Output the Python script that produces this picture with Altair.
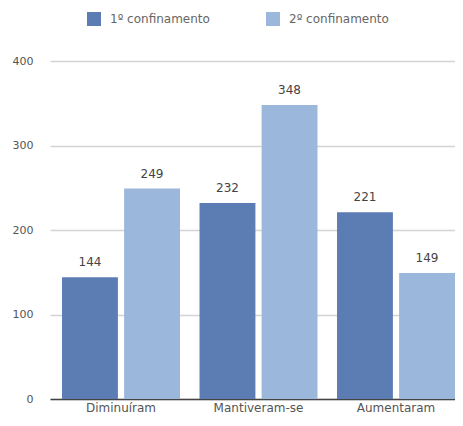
import altair as alt
import pandas as pd

categories = ["Diminuíram", "Mantiveram-se", "Aumentaram"]
series = ["1º confinamento", "2º confinamento"]
values_1 = [144, 232, 221]
values_2 = [249, 348, 149]
colors = ["#5b7db4", "#9bb8dc"]

rows = []
for c, a, b in zip(categories, values_1, values_2):
    rows.append({"cat": c, "serie": series[0], "v": a})
    rows.append({"cat": c, "serie": series[1], "v": b})
df = pd.DataFrame(rows)

FONT = "DejaVu Sans"

x = alt.X("cat:N", sort=categories, title=None,
          scale=alt.Scale(paddingInner=0.142, paddingOuter=0.0437, align=1),
          axis=alt.Axis(labelAngle=0, labelFontSize=12, labelColor="#555",
                        labelFont=FONT, ticks=False, domain=True,
                        domainColor="#444", domainWidth=1.5, labelPadding=3))
xo = alt.XOffset("serie:N", sort=series, scale=alt.Scale(paddingInner=0.1))
y = alt.Y("v:Q", title=None,
          scale=alt.Scale(domain=[0, 400]),
          axis=alt.Axis(values=[0, 100, 200, 300, 400], labelFontSize=11,
                        labelColor="#555", labelFont=FONT, ticks=False,
                        domain=False, gridColor="#d4d4d4", gridWidth=1.5,
                        labelPadding=17))

color = alt.Color("serie:N", sort=series,
                  scale=alt.Scale(domain=series, range=colors),
                  legend=alt.Legend(title=None, orient="none", direction="horizontal",
                                    legendX=37, legendY=-49, symbolType="square",
                                    symbolSize=196, symbolStrokeWidth=0,
                                    labelFontSize=12, labelColor="#666",
                                    labelFont=FONT, columnPadding=56,
                                    labelOffset=9, symbolOpacity=1))

base = alt.Chart(df)
bars = base.mark_bar().encode(x=x, xOffset=xo, y=y, color=color)
text = base.mark_text(dy=-15, fontSize=12, color="#444", font=FONT).encode(
    x=alt.X("cat:N", sort=categories), xOffset=xo, y=alt.Y("v:Q"),
    text=alt.Text("v:Q"))

chart = (bars + text).properties(
    width=405, height=338,
    autosize=alt.AutoSizeParams(type="none"),
    padding={"left": 42, "top": 53, "right": 0, "bottom": 14},
).configure_view(stroke=None)

chart.save("out.html", embed_options={"renderer": "svg", "actions": False})
